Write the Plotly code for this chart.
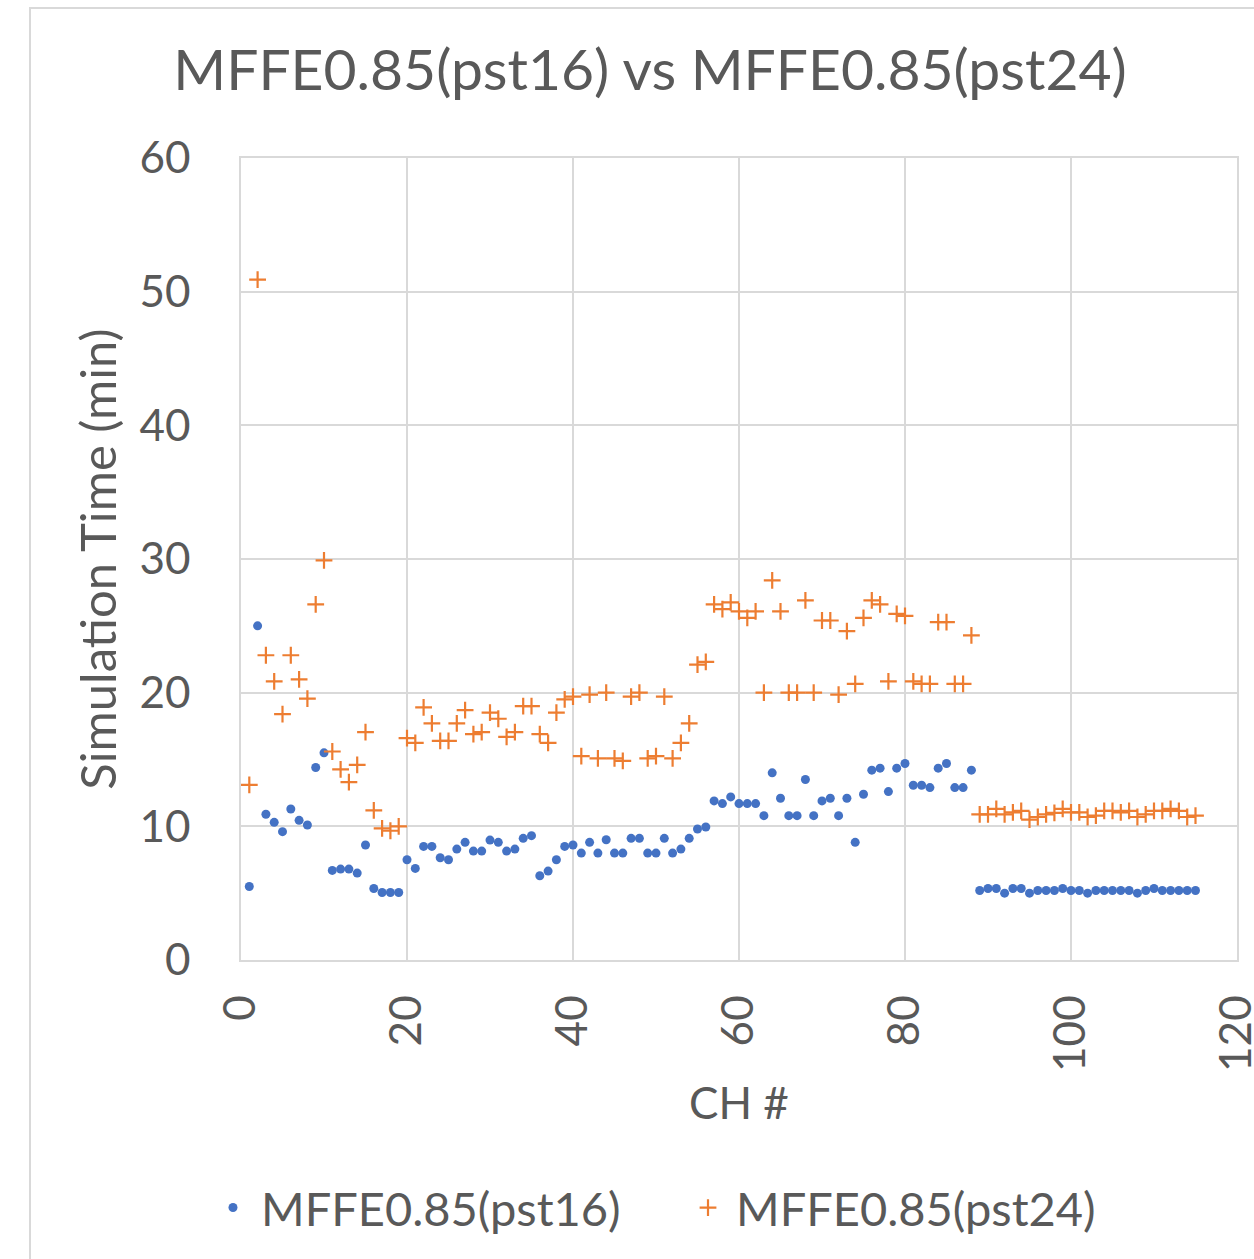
import plotly.graph_objects as go

ch = list(range(1, 116))

pst16 = [5.5, 25.0, 10.9, 10.3, 9.6, 11.3, 10.45, 10.1, 14.4, 15.5,
         6.7, 6.8, 6.8, 6.5, 8.6, 5.35, 5.05, 5.05, 5.05, 7.5,
         6.85, 8.5, 8.5, 7.65, 7.5, 8.3, 8.8, 8.15, 8.15, 8.97,
         8.8, 8.15, 8.3, 9.1, 9.3, 6.3, 6.65, 7.5, 8.5, 8.6,
         8.0, 8.8, 8.0, 9.0, 8.0, 8.0, 9.1, 9.1, 8.0, 8.0,
         9.1, 8.0, 8.3, 9.1, 9.8, 9.95, 11.9, 11.7, 12.2, 11.7,
         11.7, 11.7, 10.8, 14.0, 12.1, 10.8, 10.8, 13.5, 10.8, 11.9,
         12.1, 10.8, 12.1, 8.8, 12.4, 14.2, 14.35, 12.6, 14.35, 14.7,
         13.07, 13.07, 12.9, 14.35, 14.7, 12.9, 12.9, 14.2, 5.2, 5.35,
         5.35, 5.0, 5.35, 5.35, 5.0, 5.2, 5.2, 5.2, 5.35, 5.2,
         5.2, 5.0, 5.2, 5.2, 5.2, 5.2, 5.2, 5.0, 5.2, 5.35,
         5.2, 5.2, 5.2, 5.2, 5.2]

pst24 = [13.1, 50.9, 22.8, 20.85, 18.4, 22.8, 21.0, 19.55, 26.6, 29.9,
         15.6, 14.26, 13.3, 14.6, 17.05, 11.2, 9.85, 9.67, 10.0, 16.6,
         16.25, 18.9, 17.7, 16.4, 16.4, 17.7, 18.7, 16.9, 17.05, 18.5,
         18.05, 16.7, 17.05, 19.0, 19.0, 16.9, 16.25, 18.5, 19.5, 19.7,
         15.25, 19.85, 15.08, 20.0, 15.08, 14.9, 19.7, 20.0, 15.08, 15.25,
         19.7, 15.08, 16.25, 17.7, 22.1, 22.3, 26.6, 26.25, 26.75, 26.08,
         25.6, 26.08, 20.0, 28.4, 26.08, 20.0, 20.0, 26.9, 20.0, 25.4,
         25.4, 19.85, 24.6, 20.66, 25.6, 26.9, 26.6, 20.85, 25.9, 25.75,
         20.85, 20.66, 20.66, 25.28, 25.28, 20.66, 20.66, 24.28, 10.9, 10.9,
         11.3, 10.9, 11.05, 11.15, 10.5, 10.7, 10.9, 11.0, 11.3, 11.05,
         11.05, 10.7, 10.8, 11.15, 11.15, 11.05, 11.15, 10.7, 10.9, 11.15,
         11.15, 11.3, 11.15, 10.7, 10.8]

series_names = ["MFFE0.85(pst16)", "MFFE0.85(pst24)"]
x_ticks = [0, 20, 40, 60, 80, 100, 120]
y_ticks = [0, 10, 20, 30, 40, 50, 60]

FONT = "Lato"
GRAY = "#595959"
GRID = "#d9d9d9"

fig = go.Figure()
fig.add_trace(go.Scatter(
    x=ch, y=pst16, mode="markers", name=series_names[0],
    marker=dict(symbol="circle", size=9, color="#4472C4", line=dict(width=0)),
))
fig.add_trace(go.Scatter(
    x=ch, y=pst24, mode="markers", name=series_names[1],
    marker=dict(symbol="cross-thin", size=12, color="#ED7D31",
                line=dict(width=2.2, color="#ED7D31")),
))

W, H = 1254, 1259
L, R, T, B = 241, 1237, 158, 960
pw, ph = R - L, B - T

def px2paper_x(px):
    return (px - L) / pw

def px2paper_y(py):
    return (B - py) / ph

fig.update_layout(
    width=W, height=H,
    margin=dict(l=L, r=W - R, t=T, b=H - B, pad=0, autoexpand=False),
    paper_bgcolor="white", plot_bgcolor="white",
    font=dict(family=FONT, color=GRAY),
    title=dict(text="MFFE0.85(pst16) vs MFFE0.85(pst24)",
               x=650 / W, xanchor="center", y=1 - 70 / H, yanchor="middle",
               font=dict(size=57, color=GRAY, family=FONT)),
    xaxis=dict(range=[0, 120], tickvals=x_ticks, ticktext=[str(v) for v in x_ticks],
               tickangle=-90, tickfont=dict(size=44, color=GRAY),
               ticklabeloverflow="allow", automargin=False,
               showgrid=True, gridcolor=GRID, gridwidth=1.5,
               showline=True, linecolor=GRID, linewidth=1.5, mirror=True,
               zeroline=False, ticks="", ticklabelstandoff=16,
               title=dict(text="CH #", font=dict(size=44, color=GRAY), standoff=17)),
    yaxis=dict(range=[0, 60], tickvals=y_ticks, ticktext=[str(v) for v in y_ticks],
               tickfont=dict(size=44, color=GRAY), automargin=False,
               showgrid=True, gridcolor=GRID, gridwidth=1.5,
               showline=True, linecolor=GRID, linewidth=1.5, mirror=True,
               zeroline=False, ticks="", ticklabelstandoff=40,
               title=dict(text="Simulation Time (min)", font=dict(size=49, color=GRAY), standoff=7)),
    legend=dict(orientation="h", x=px2paper_x(205), xanchor="left",
                y=px2paper_y(1208), yanchor="middle",
                font=dict(size=47, color=GRAY), bgcolor="rgba(0,0,0,0)",
                itemsizing="trace", itemwidth=46,
                entrywidth=414, entrywidthmode="pixels"),
    showlegend=True,
    shapes=[dict(type="rect", xref="paper", yref="paper",
                 x0=px2paper_x(30), x1=px2paper_x(1300),
                 y0=px2paper_y(1300), y1=px2paper_y(8),
                 line=dict(color=GRID, width=2), fillcolor="rgba(0,0,0,0)", layer="below")],
)

fig.write_html("out.html")
